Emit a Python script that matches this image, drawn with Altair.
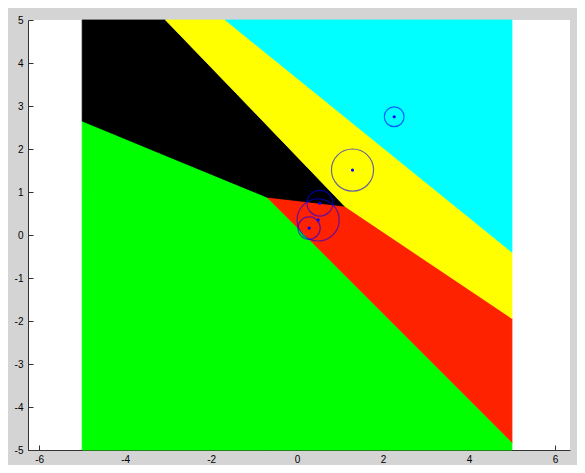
import altair as alt
import pandas as pd

# ---- data ----
region_names = ["cyan", "yellow", "black", "red", "green"]
region_colors = ["#00ffff", "#ffff00", "#000000", "#ff2200", "#00ff00"]

green_x = [-5, -0.70, 5]
green_lo = [-5, -5, -5]
green_hi = [2.65, 0.88, -4.82]

red_x = [-0.70, 1.11, 5]
red_lo = [0.88, -0.93, -4.82]
red_hi = [0.88, 0.67, -1.94]

black_x = [-5, -3.06, -0.70, 1.11]
black_lo = [2.65, 1.85, 0.88, 0.67]
black_hi = [5, 5, 2.55, 0.67]

yellow_x = [-3.06, -1.67, 1.11, 5]
yellow_lo = [5, 3.56, 0.67, -1.94]
yellow_hi = [5, 5, 2.75, -0.40]

cyan_x = [-1.67, 5]
cyan_lo = [5, -0.40]
cyan_hi = [5, 5]

circle_x = [2.26, 1.29, 0.53, 0.49, 0.28]
circle_y = [2.75, 1.51, 0.74, 0.35, 0.16]
circle_r = [0.23, 0.49, 0.30, 0.49, 0.26]

x_ticks = [-6, -4, -2, 0, 2, 4, 6]
y_ticks = [-5, -4, -3, -2, -1, 0, 1, 2, 3, 4, 5]

# ---- build tables ----
rows = []
for name, xs, los, his in [
    ("green", green_x, green_lo, green_hi),
    ("red", red_x, red_lo, red_hi),
    ("black", black_x, black_lo, black_hi),
    ("yellow", yellow_x, yellow_lo, yellow_hi),
    ("cyan", cyan_x, cyan_lo, cyan_hi),
]:
    for a, b, c in zip(xs, los, his):
        rows.append({"region": name, "x": a, "lo": b, "hi": c})
regions = pd.DataFrame(rows)
circles = pd.DataFrame({"x": circle_x, "y": circle_y, "r": circle_r})

W, H = 542, 430
xs = alt.Scale(domain=[-6.26, 6.35], nice=False, zero=False)
ys = alt.Scale(domain=[-5, 5], nice=False, zero=False)
px_per_unit = W / (6.35 + 6.26)

label_font = "Liberation Sans"
color_scale = alt.Scale(domain=region_names, range=region_colors)

areas = alt.Chart(regions).mark_area(strokeWidth=0.8).encode(
    x=alt.X("x:Q", scale=xs, axis=alt.Axis(
        values=x_ticks, ticks=False, grid=False, title=None,
        labelExpr="'' + datum.value", labelPadding=4,
        domainColor="#333333", labelColor="#000000",
        labelFont=label_font, labelFontSize=10)),
    y=alt.Y("lo:Q", scale=ys, axis=alt.Axis(
        values=y_ticks, ticks=False, grid=False, title=None,
        labelExpr="'' + datum.value", labelPadding=5,
        domainColor="#333333", labelColor="#000000",
        labelFont=label_font, labelFontSize=10)),
    y2="hi:Q",
    color=alt.Color("region:N", scale=color_scale, legend=None),
    stroke=alt.Stroke("region:N", scale=color_scale, legend=None),
    detail="region:N",
)

rings = alt.Chart(circles).mark_point(
    shape="circle", filled=False, color="#0000ff",
    strokeWidth=1.2, opacity=0.6
).encode(
    x=alt.X("x:Q", scale=xs, axis=alt.Axis(
        orient="top", offset=-H, values=x_ticks, labels=False,
        domain=False, grid=False, title=None, tickSize=5,
        tickColor="#333333")),
    y=alt.Y("y:Q", scale=ys, axis=alt.Axis(
        orient="right", offset=-W, values=y_ticks, labels=False,
        domain=False, grid=False, title=None, tickSize=5,
        tickColor="#333333")),
    size=alt.Size("r:Q", legend=None, scale=alt.Scale(
        type="pow", exponent=2, domain=[0, 1],
        range=[0, (2 * px_per_unit) ** 2])),
)

dots = alt.Chart(circles).mark_point(
    shape="circle", filled=True, color="#0000ff", size=10, opacity=1
).encode(
    x=alt.X("x:Q", scale=xs, axis=None),
    y=alt.Y("y:Q", scale=ys, axis=None),
)

chart = alt.layer(areas, rings, dots).resolve_axis(
    x="independent", y="independent"
).properties(
    width=W, height=H,
    background="#d4d4d4",
    padding={"left": 20, "top": 12, "right": 7, "bottom": 15},
    autosize=alt.AutoSizeParams(type="none"),
).configure_view(fill="#ffffff", stroke=None)

chart.save("out.html", embed_options={"renderer": "svg", "actions": False})
